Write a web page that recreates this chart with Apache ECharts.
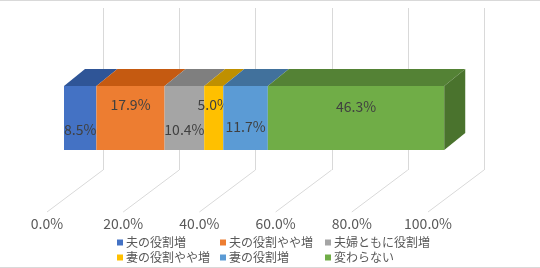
<!DOCTYPE html>
<html><head><meta charset="utf-8">
<script src="https://cdn.jsdelivr.net/npm/echarts@6/dist/echarts.min.js"></script>
<style>html,body{margin:0;padding:0;background:#fff}#c{width:540px;height:268px}</style>
</head><body><div id="c"></div>
<script>
var categories = ['夫の役割増','夫の役割やや増','夫婦ともに役割増','妻の役割やや増','妻の役割増','変わらない'];
var values = [8.5, 17.9, 10.4, 5.0, 11.7, 46.3];
var tickValues = [0, 20, 40, 60, 80, 100];

var colors = ['#4472C4','#ED7D31','#A5A5A5','#FFC000','#5B9BD5','#70AD47'];
var topColors = ['#2F5597','#C55A11','#7F7F7F','#BF9000','#41719C','#548235'];
var sideColors = ['#2F4F88','#A34A0E','#6B6B6B','#A07800','#365F84','#4A732D'];
var labelDy = [12, -13, 12, -13, 9, -11];

// depth geometry (pixels)
var DEPTH_X = 56, DEPTH_Y = -42;      // full floor depth
var BAR_OFF_X = 17;                   // bar front offset from floor front
var BAR_DX = 21, BAR_DY = -17;        // bar depth
var BAR_CY_OFF = 8, BAR_H = 64;       // bar front face centre offset / height

var chart = echarts.init(document.getElementById('c'), null, {renderer:'canvas'});

var starts = [];
var acc = 0;
for (var i = 0; i < values.length; i++) { starts.push(acc); acc += values[i]; }

function gridRender(params, api) {
  var cs = params.coordSys;
  var x = api.coord([api.value(0), 0])[0];
  var yb = cs.y + cs.height;
  var style = {stroke:'#d9d9d9', lineWidth:1};
  return {type:'group', children:[
    {type:'line', shape:{x1:Math.round(x+DEPTH_X)+0.5, y1:cs.y, x2:Math.round(x+DEPTH_X)+0.5, y2:yb+DEPTH_Y}, style:style},
    {type:'line', shape:{x1:x+DEPTH_X, y1:yb+DEPTH_Y, x2:x, y2:yb}, style:style}
  ]};
}

function makeBarRender(idx) {
  return function(params, api) {
    var s = api.value(0), e = api.value(1);
    var ps = api.coord([s, 0]), pe = api.coord([e, 0]);
    var xs = ps[0] + BAR_OFF_X, xe = pe[0] + BAR_OFF_X;
    var cy = ps[1] + BAR_CY_OFF;
    var yt = cy - BAR_H/2, ybm = cy + BAR_H/2;
    var children = [
      {type:'polygon', shape:{points:[[xs,yt],[xe,yt],[xe+BAR_DX,yt+BAR_DY],[xs+BAR_DX,yt+BAR_DY]]}, style:{fill:topColors[idx]}},
      {type:'rect', shape:{x:xs, y:yt, width:xe-xs, height:ybm-yt}, style:{fill:colors[idx]}}
    ];
    if (idx === values.length - 1) {
      children.push({type:'polygon', shape:{points:[[xe,yt],[xe+BAR_DX,yt+BAR_DY],[xe+BAR_DX,ybm+BAR_DY],[xe,ybm]]}, style:{fill:sideColors[idx]}});
    }
    children.push({type:'text', x:(xs+xe)/2, y:cy+labelDy[idx], style:{
      text: values[idx].toFixed(1)+'%', fill:'#404040', font:'14px "Noto Sans CJK JP", "Noto Sans", sans-serif',
      align:'center', verticalAlign:'middle'}});
    return {type:'group', children:children};
  };
}

var series = [{
  type:'custom', name:'grid', silent:true, renderItem:gridRender,
  data: tickValues.map(function(v){return [v, 0];}), encode:{x:0, y:1}, z:1
}];
for (var k = 0; k < values.length; k++) {
  series.push({
    type:'custom', name:categories[k], renderItem:makeBarRender(k),
    itemStyle:{color:colors[k]},
    data:[[starts[k], starts[k]+values[k], 0]], encode:{x:[0,1], y:2}, z:2
  });
}

function legendAt(left, items) {
  return {
    data: items, orient:'vertical', left:left, top:235, padding:0, itemGap:0,
    itemWidth:6, itemHeight:6, icon:'rect', selectedMode:false,
    textStyle:{color:'#595959', fontSize:12, lineHeight:15, fontFamily:'"Noto Sans CJK JP", sans-serif', padding:[0,0,0,-2]}
  };
}

chart.setOption({
  animation:false,
  textStyle:{fontFamily:'"Noto Sans CJK JP", "Noto Sans", sans-serif'},
  grid:{left:47, right:112, top:8, bottom:56},
  xAxis:{type:'value', min:0, max:100, interval:20,
    axisLine:{show:false}, axisTick:{show:false}, splitLine:{show:false},
    axisLabel:{margin:5, color:'#595959', fontSize:14, fontFamily:'"Noto Sans CJK JP", "Noto Sans", sans-serif',
      formatter:function(v){return v.toFixed(1)+'%';}}},
  yAxis:{type:'category', data:['all'], show:false},
  legend:[
    legendAt(117, [categories[0], categories[3]]),
    legendAt(220, [categories[1], categories[4]]),
    legendAt(325, [categories[2], categories[5]])
  ],
  graphic:[
    {type:'line', shape:{x1:0, y1:0.5, x2:540, y2:0.5}, style:{stroke:'#d9d9d9', lineWidth:1}},
    {type:'line', shape:{x1:0, y1:267.5, x2:540, y2:267.5}, style:{stroke:'#d9d9d9', lineWidth:1}}
  ],
  series:series
});
</script></body></html>
